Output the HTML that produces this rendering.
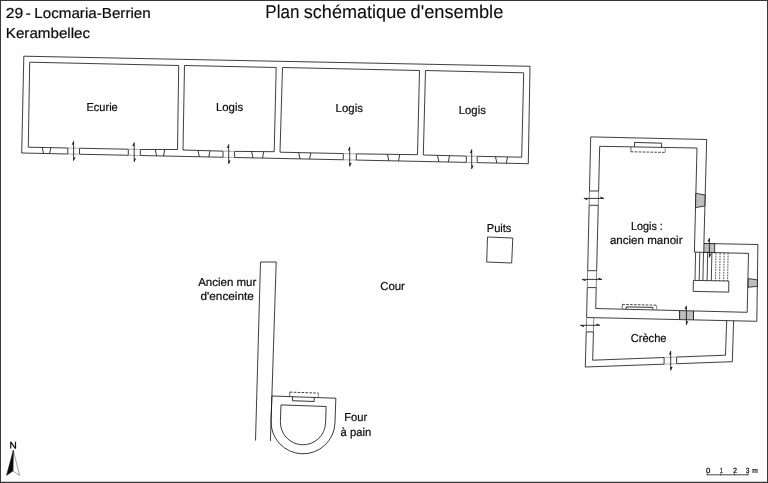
<!DOCTYPE html>
<html lang="fr"><head><meta charset="utf-8"><title>Plan schématique d'ensemble</title>
<style>
html,body{margin:0;padding:0;background:#fff;}
body{width:768px;height:483px;overflow:hidden;position:relative;font-family:"Liberation Sans",sans-serif;}
svg{position:absolute;left:0;top:0;display:block;filter:grayscale(1);}
svg text{font-family:"Liberation Sans",sans-serif;text-rendering:geometricPrecision;}
</style></head><body>
<svg width="768" height="483" viewBox="0 0 768 483">
<defs>
<pattern id="hatch" width="2.4" height="2.4" patternUnits="userSpaceOnUse">
<rect width="2.4" height="2.4" fill="#c9c9c9"/><rect x="0.2" y="0.2" width="1.2" height="1.2" fill="#a4a4a4"/><rect x="1.4" y="1.4" width="0.9" height="0.9" fill="#b8b8b8"/>
</pattern>
</defs>
<rect x="0" y="0" width="768" height="483" fill="#fefefe"/>
<g stroke-linejoin="miter" stroke-linecap="butt" opacity="0.999">
<path d="M21.7,153 L23.8,56.2 L530,66.3 L528.3,163.7 L477.2,162.62 L477.2,156.3 L521.7,157.2 L523.7,72.8 L425.5,70.5 L423.3,155 L466.3,156.08 L466.3,162.39 L356.3,160.07 L356.3,153.85 L417.5,154.7 L419.5,70.5 L282.5,67.5 L280,152.2 L343.3,153.58 L343.3,159.79 L234.6,157.5 L234.6,151.38 L274.2,151.7 L276.2,67.5 L184.5,65.5 L183,150 L223,151.15 L223,157.25 L140.3,155.5 L140.3,149.47 L177.5,149.5 L178.7,65.5 L29.7,62.2 L28.3,147.2 L67.8,148 L67.8,153.97 Z" fill="none" stroke="#141414" stroke-width="0.82" />
<path d="M79.5,148.24 L128.3,149.23 L128.3,155.25 L79.5,154.22 Z" fill="none" stroke="#141414" stroke-width="0.82" />
<path d="M67.8,148 L79.5,148.24 M67.8,153.97 L79.5,154.22" fill="none" stroke="#8c8c8c" stroke-width="0.7" />
<path d="M128.3,149.23 L140.3,149.47 M128.3,155.25 L140.3,155.5" fill="none" stroke="#8c8c8c" stroke-width="0.7" />
<path d="M223,151.15 L234.6,151.38 M223,157.25 L234.6,157.5" fill="none" stroke="#8c8c8c" stroke-width="0.7" />
<path d="M343.3,153.58 L356.3,153.85 M343.3,159.79 L356.3,160.07" fill="none" stroke="#8c8c8c" stroke-width="0.7" />
<path d="M466.3,156.08 L477.2,156.3 M466.3,162.39 L477.2,162.62" fill="none" stroke="#8c8c8c" stroke-width="0.7" />
<path d="M42.2,147.48 L43.5,153.46 M50.8,147.66 L49.6,153.59" fill="none" stroke="#141414" stroke-width="0.85" />
<path d="M155.3,149.77 L156.6,155.85 M164.7,149.96 L163.5,155.99" fill="none" stroke="#141414" stroke-width="0.85" />
<path d="M198,150.64 L199.3,156.75 M210,150.88 L208.8,156.95" fill="none" stroke="#141414" stroke-width="0.85" />
<path d="M251.7,151.73 L253,157.89 M263.7,151.97 L262.5,158.09" fill="none" stroke="#141414" stroke-width="0.85" />
<path d="M298.7,152.68 L300,158.88 M310.8,152.93 L309.6,159.08" fill="none" stroke="#141414" stroke-width="0.85" />
<path d="M387.5,154.48 L388.8,160.75 M399.7,154.73 L398.5,160.96" fill="none" stroke="#141414" stroke-width="0.85" />
<path d="M437.5,155.49 L438.8,161.81 M449.5,155.74 L448.3,162.01" fill="none" stroke="#141414" stroke-width="0.85" />
<path d="M495.5,156.67 L496.8,163.03 M507.5,156.91 L506.3,163.24" fill="none" stroke="#141414" stroke-width="0.85" />
<path d="M73.6,141.21 L73.6,160.71" fill="none" stroke="#141414" stroke-width="0.85" />
<path d="M73.6,140.81 L71.7,144.71 L73.6,144.51 Z" fill="#141414"/>
<path d="M73.6,161.11 L75.5,157.21 L73.6,157.41 Z" fill="#141414"/>
<path d="M134.2,142.46 L134.2,161.96" fill="none" stroke="#141414" stroke-width="0.85" />
<path d="M134.2,142.06 L132.3,145.96 L134.2,145.76 Z" fill="#141414"/>
<path d="M134.2,162.36 L136.1,158.46 L134.2,158.66 Z" fill="#141414"/>
<path d="M228.7,144.42 L228.7,163.92" fill="none" stroke="#141414" stroke-width="0.85" />
<path d="M228.7,144.02 L226.8,147.92 L228.7,147.72 Z" fill="#141414"/>
<path d="M228.7,164.32 L230.6,160.42 L228.7,160.62 Z" fill="#141414"/>
<path d="M349.7,146.92 L349.7,166.42" fill="none" stroke="#141414" stroke-width="0.85" />
<path d="M349.7,146.52 L347.8,150.42 L349.7,150.22 Z" fill="#141414"/>
<path d="M349.7,166.82 L351.6,162.92 L349.7,163.12 Z" fill="#141414"/>
<path d="M471.7,149.45 L471.7,168.95" fill="none" stroke="#141414" stroke-width="0.85" />
<path d="M471.7,149.05 L469.8,152.95 L471.7,152.75 Z" fill="#141414"/>
<path d="M471.7,169.35 L473.6,165.45 L471.7,165.65 Z" fill="#141414"/>
<path d="M586.6,317.5 L587.28,287.6 L596.22,287.6 L595.7,308.5 L679.6,310.6 L679.6,319.58 Z" fill="none" stroke="#141414" stroke-width="0.82" />
<path d="M587.66,270.7 L589.15,205.3 L598.25,205.3 L596.63,270.7 Z" fill="none" stroke="#141414" stroke-width="0.82" />
<path d="M598.6,191 L589.47,191 L590.7,136.9 L706.7,139.5 L703.9,243.5 L757.9,244.5 L756.8,321.3 L693.5,319.89 L693.5,310.95 L747.2,312.3 L748.5,253.4 L694.4,252.1 L697,148 L599.7,146.3 Z" fill="none" stroke="#141414" stroke-width="0.82" />
<path d="M695.8,193.3 L705.1,195 L704.8,206 L695.5,207.6 Z" fill="url(#hatch)" stroke="#141414" stroke-width="0.8"/>
<path d="M703.9,243.5 L714.7,243.7 L714.6,252.5 L703.8,252.3 Z" fill="url(#hatch)" stroke="#141414" stroke-width="0.8"/>
<path d="M748.3,278.6 L757.5,279.9 L757.4,286.3 L748.1,287.3 Z" fill="url(#hatch)" stroke="#141414" stroke-width="0.8"/>
<path d="M679.6,310.6 L693.5,310.95 L693.5,319.89 L679.6,319.58 Z" fill="url(#hatch)" stroke="#141414" stroke-width="0.8"/>
<path d="M589.47,191 L589.15,205.3 M598.6,191 L598.25,205.3" fill="none" stroke="#505050" stroke-width="0.7" />
<path d="M583.9,198.4 L604.02,198.4" fill="none" stroke="#141414" stroke-width="0.85" />
<path d="M583.5,198.4 L587.4,200.3 L587.2,198.4 Z" fill="#141414"/>
<path d="M604.42,198.4 L600.52,196.5 L600.72,198.4 Z" fill="#141414"/>
<path d="M587.66,270.7 L587.28,287.6 M596.63,270.7 L596.22,287.6" fill="none" stroke="#505050" stroke-width="0.7" />
<path d="M582.06,279.4 L602.02,279.4" fill="none" stroke="#141414" stroke-width="0.85" />
<path d="M581.66,279.4 L585.56,281.3 L585.36,279.4 Z" fill="#141414"/>
<path d="M602.42,279.4 L598.52,277.5 L598.72,279.4 Z" fill="#141414"/>
<path d="M709.4,238.1 L709.4,257.3" fill="none" stroke="#141414" stroke-width="0.85" />
<path d="M709.4,237.7 L707.5,241.6 L709.4,241.4 Z" fill="#141414"/>
<path d="M709.4,257.7 L711.3,253.8 L709.4,254 Z" fill="#141414"/>
<path d="M686.4,305.8 L686.4,324.8" fill="none" stroke="#141414" stroke-width="0.85" />
<path d="M686.4,305.4 L684.5,309.3 L686.4,309.1 Z" fill="#141414"/>
<path d="M686.4,325.2 L688.3,321.3 L686.4,321.5 Z" fill="#141414"/>
<path d="M695.6,252.3 L695,280.6" fill="none" stroke="#141414" stroke-width="0.8" />
<path d="M699.8,252.3 L699.2,280.6" fill="none" stroke="#141414" stroke-width="0.8" />
<path d="M703.5,252.3 L702.9,280.6" fill="none" stroke="#141414" stroke-width="0.8" />
<path d="M707.7,252.3 L707.1,280.6" fill="none" stroke="#141414" stroke-width="0.8" />
<path d="M711.9,252.3 L711.3,280.6" fill="none" stroke="#141414" stroke-width="0.8" />
<path d="M716,253 L715.5,280.9" fill="none" stroke="#2a2a2a" stroke-width="0.75" stroke-dasharray="1.8 0.9"/>
<path d="M720.1,253 L719.6,280.9" fill="none" stroke="#2a2a2a" stroke-width="0.75" stroke-dasharray="1.8 0.9"/>
<path d="M724.2,253 L723.7,280.9" fill="none" stroke="#2a2a2a" stroke-width="0.75" stroke-dasharray="1.8 0.9"/>
<path d="M728.1,253 L727.6,280.9" fill="none" stroke="#2a2a2a" stroke-width="0.75" stroke-dasharray="1.8 0.9"/>
<path d="M693.4,280.4 L728.8,281 L728.7,292.1 L693.2,291.4 Z" fill="#fff" stroke="#141414" stroke-width="0.82" />
<path d="M634.5,146.9 L634.6,142.4 L661.6,143.2 L661.5,147.4" fill="none" stroke="#141414" stroke-width="0.85" />
<path d="M630.9,147 L630.9,151.8" fill="none" stroke="#3a3a3a" stroke-width="0.75" />
<path d="M630.9,151.8 L665.2,152.4" fill="none" stroke="#222" stroke-width="0.85" stroke-dasharray="2.6 1.3"/>
<path d="M665.2,152.4 L665.2,147.6" fill="none" stroke="#6a6a6a" stroke-width="0.75" />
<path d="M626.2,309.1 L626.2,306.9 L652.8,307.4 L652.8,309.6" fill="none" stroke="#141414" stroke-width="0.85" />
<path d="M622.3,309 L622.3,304.4" fill="none" stroke="#3a3a3a" stroke-width="0.75" />
<path d="M622.3,304.4 L656.6,305.2" fill="none" stroke="#222" stroke-width="0.85" stroke-dasharray="2.6 1.3"/>
<path d="M656.6,305.2 L656.6,309.6" fill="none" stroke="#6a6a6a" stroke-width="0.75" />
<path d="M593.43,331.9 L586.22,331.9 L585.3,367 L664.1,364.16 L664.1,357.51 L592.7,360.2 Z" fill="none" stroke="#141414" stroke-width="0.82" />
<path d="M726.7,320.63 L725.5,355.2 L676.6,357.04 L676.6,363.71 L732.3,361.7 L733.6,320.78" fill="none" stroke="#141414" stroke-width="0.82" />
<path d="M586.58,318.3 L586.22,331.9 M593.8,317.66 L593.43,331.9" fill="none" stroke="#555" stroke-width="0.7" />
<path d="M664.1,357.51 L676.6,357.04 M664.1,364.16 L676.6,363.71" fill="none" stroke="#8c8c8c" stroke-width="0.7" />
<path d="M580.3,325.3 L599.9,325.3" fill="none" stroke="#141414" stroke-width="0.85" />
<path d="M579.9,325.3 L583.8,327.2 L583.6,325.3 Z" fill="#141414"/>
<path d="M600.3,325.3 L596.4,323.4 L596.6,325.3 Z" fill="#141414"/>
<path d="M670.7,351.1 L670.7,370.4" fill="none" stroke="#141414" stroke-width="0.85" />
<path d="M670.7,350.7 L668.8,354.6 L670.7,354.4 Z" fill="#141414"/>
<path d="M670.7,370.8 L672.6,366.9 L670.7,367.1 Z" fill="#141414"/>
<path d="M487.5,237 L512.8,238 L511.7,263 L486.7,262 Z" fill="none" stroke="#141414" stroke-width="0.82" />
<path d="M255.5,440.5 L260.5,262 L276.2,262 L271.9,396" fill="none" stroke="#141414" stroke-width="0.82" />
<path d="M271.9,396 L270.4,441" fill="none" stroke="#141414" stroke-width="0.82" />
<g transform="rotate(2 303.0 421.8)">
<path d="M271.0,421.8 L271.0,397.1 L335.0,397.1 L335.0,421.8 A32,32 0 0 1 271.0,421.8 Z" fill="none" stroke="#141414" stroke-width="0.82" />
<path d="M280.4,422.2 L280.4,405.7 L325.6,405.7 L325.6,422.2 A22.6,22.6 0 0 1 280.4,422.2 Z" fill="none" stroke="#141414" stroke-width="0.82" />
<path d="M291.8,397.1 L291.8,401.1 L313.4,401.1 L313.4,397.1" fill="none" stroke="#141414" stroke-width="0.85" />
<path d="M288.8,397.1 L288.8,392.6" fill="none" stroke="#3a3a3a" stroke-width="0.75" />
<path d="M288.8,392.6 L317.4,392.6" fill="none" stroke="#222" stroke-width="0.85" stroke-dasharray="2.6 1.3"/>
<path d="M317.4,392.6 L317.4,397.1" fill="none" stroke="#6a6a6a" stroke-width="0.75" />
</g>
<path d="M13.3,450.3 L19.6,475.4 L12.9,471.0 Z" fill="#fff" stroke="#555" stroke-width="0.55"/>
<path d="M13.3,450.3 L6.5,475.4 L12.9,471.0 Z" fill="#0a0a0a" stroke="#0a0a0a" stroke-width="0.5"/>
<path d="M10.75,448.6 V441.8 L15.5,448.6 V441.8" fill="none" stroke="#111" stroke-width="1.2" stroke-linejoin="bevel"/>
<path d="M707.1,474.8 L748.2,474.8" fill="none" stroke="#333" stroke-width="0.9" />
<path d="M707.2,473.6 L707.2,475.2" fill="none" stroke="#222" stroke-width="1.0" />
<path d="M720.8,473.6 L720.8,475.2" fill="none" stroke="#222" stroke-width="1.0" />
<path d="M734.5,473.6 L734.5,475.2" fill="none" stroke="#222" stroke-width="1.0" />
<path d="M748,473.6 L748,475.2" fill="none" stroke="#222" stroke-width="1.0" />
<text x="5.7" y="18" font-size="14.5" textLength="17.52" lengthAdjust="spacingAndGlyphs" font-weight="normal" fill="#0c0c0c" stroke="#0c0c0c" stroke-width="0.2">29</text>
<text x="25.84" y="18" font-size="14.5" textLength="5.03" lengthAdjust="spacingAndGlyphs" font-weight="normal" fill="#0c0c0c" stroke="#0c0c0c" stroke-width="0.2">-</text>
<text x="34.29" y="18" font-size="14.5" textLength="116.47" lengthAdjust="spacingAndGlyphs" font-weight="normal" fill="#0c0c0c" stroke="#0c0c0c" stroke-width="0.2">Locmaria-Berrien</text>
<text x="5.81" y="37.6" font-size="14.5" textLength="84.32" lengthAdjust="spacingAndGlyphs" font-weight="normal" fill="#0c0c0c" stroke="#0c0c0c" stroke-width="0.2">Kerambellec</text>
<text x="265.35" y="17.8" font-size="18.4" textLength="34.03" lengthAdjust="spacingAndGlyphs" font-weight="normal" fill="#0c0c0c" stroke="#0c0c0c" stroke-width="0.1">Plan</text>
<text x="303.76" y="17.8" font-size="18.4" textLength="102.49" lengthAdjust="spacingAndGlyphs" font-weight="normal" fill="#0c0c0c" stroke="#0c0c0c" stroke-width="0.1">schématique</text>
<text x="410.5" y="17.8" font-size="18.4" textLength="92.8" lengthAdjust="spacingAndGlyphs" font-weight="normal" fill="#0c0c0c" stroke="#0c0c0c" stroke-width="0.1">d&#39;ensemble</text>
<text x="86.5" y="110.9" font-size="11.5" textLength="31.26" lengthAdjust="spacingAndGlyphs" font-weight="normal" fill="#0c0c0c" stroke="#0c0c0c" stroke-width="0.2">Ecurie</text>
<text x="215.92" y="110.9" font-size="11.5" textLength="27.28" lengthAdjust="spacingAndGlyphs" font-weight="normal" fill="#0c0c0c" stroke="#0c0c0c" stroke-width="0.2">Logis</text>
<text x="335.58" y="112" font-size="11.5" textLength="27.3" lengthAdjust="spacingAndGlyphs" font-weight="normal" fill="#0c0c0c" stroke="#0c0c0c" stroke-width="0.2">Logis</text>
<text x="458.85" y="113.5" font-size="11.5" textLength="26.94" lengthAdjust="spacingAndGlyphs" font-weight="normal" fill="#0c0c0c" stroke="#0c0c0c" stroke-width="0.2">Logis</text>
<text x="486.73" y="231.7" font-size="11.5" textLength="24.71" lengthAdjust="spacingAndGlyphs" font-weight="normal" fill="#0c0c0c" stroke="#0c0c0c" stroke-width="0.2">Puits</text>
<text x="380.17" y="290" font-size="11.5" textLength="24.78" lengthAdjust="spacingAndGlyphs" font-weight="normal" fill="#0c0c0c" stroke="#0c0c0c" stroke-width="0.2">Cour</text>
<text x="198.17" y="285.9" font-size="11.5" textLength="58.18" lengthAdjust="spacingAndGlyphs" font-weight="normal" fill="#0c0c0c" stroke="#0c0c0c" stroke-width="0.2">Ancien mur</text>
<text x="200.53" y="300.3" font-size="11.5" textLength="53.33" lengthAdjust="spacingAndGlyphs" font-weight="normal" fill="#0c0c0c" stroke="#0c0c0c" stroke-width="0.2">d&#39;enceinte</text>
<text x="344.16" y="420.8" font-size="11.5" textLength="23.11" lengthAdjust="spacingAndGlyphs" font-weight="normal" fill="#0c0c0c" stroke="#0c0c0c" stroke-width="0.2">Four</text>
<text x="340.57" y="435.7" font-size="11.5" textLength="30.57" lengthAdjust="spacingAndGlyphs" font-weight="normal" fill="#0c0c0c" stroke="#0c0c0c" stroke-width="0.2">à pain</text>
<text x="631.03" y="229.75" font-size="11.5" textLength="31.85" lengthAdjust="spacingAndGlyphs" font-weight="normal" fill="#0c0c0c" stroke="#0c0c0c" stroke-width="0.2">Logis :</text>
<text x="609.88" y="244" font-size="11.5" textLength="72.62" lengthAdjust="spacingAndGlyphs" font-weight="normal" fill="#0c0c0c" stroke="#0c0c0c" stroke-width="0.2">ancien manoir</text>
<text x="630.67" y="342.2" font-size="11.5" textLength="35.87" lengthAdjust="spacingAndGlyphs" font-weight="normal" fill="#0c0c0c" stroke="#0c0c0c" stroke-width="0.2">Crèche</text>
<text x="705.97" y="473" font-size="7.4" textLength="4.38" lengthAdjust="spacingAndGlyphs" font-weight="normal" fill="#0c0c0c" stroke="#0c0c0c" stroke-width="0.22">0</text>
<text x="719.85" y="473" font-size="7.4" textLength="3" lengthAdjust="spacingAndGlyphs" font-weight="normal" fill="#0c0c0c" stroke="#0c0c0c" stroke-width="0.22">1</text>
<text x="733.01" y="473" font-size="7.4" textLength="4.08" lengthAdjust="spacingAndGlyphs" font-weight="normal" fill="#0c0c0c" stroke="#0c0c0c" stroke-width="0.22">2</text>
<text x="745.85" y="473" font-size="7.4" textLength="3.68" lengthAdjust="spacingAndGlyphs" font-weight="normal" fill="#0c0c0c" stroke="#0c0c0c" stroke-width="0.22">3</text>
<text x="752.13" y="473" font-size="7.4" textLength="5.57" lengthAdjust="spacingAndGlyphs" font-weight="normal" fill="#0c0c0c" stroke="#0c0c0c" stroke-width="0.22">m</text>
</g>
<path d="M0,0 H768 V483 H0 Z M1,1 V481.7 H767 V1 Z" fill="#383838" fill-rule="evenodd"/>
</svg>
</body></html>
